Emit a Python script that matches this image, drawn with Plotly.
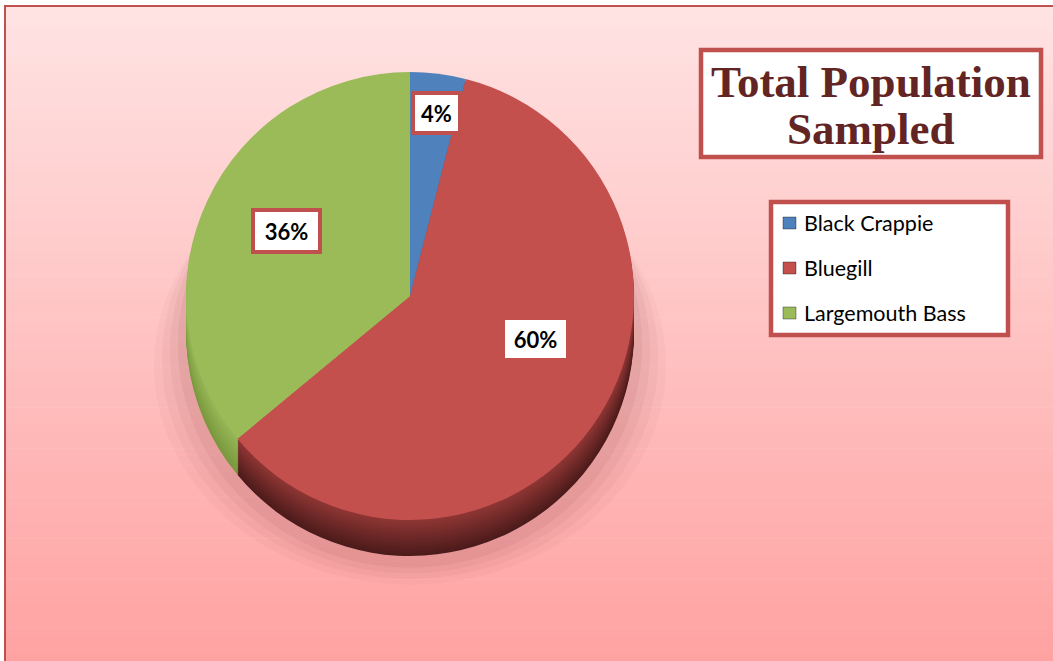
import plotly.graph_objects as go

# ---- data ----
species = ["Black Crappie", "Bluegill", "Largemouth Bass"]
percent = [4, 60, 36]
face_colors = ["#4f81bd", "#c4504e", "#9bbb59"]
title_lines = ["Total Population", "Sampled"]

W, H = 1053, 661


def X(px):
    return px / W


def Y(py):
    return 1 - py / H


def mix(c0, c1, t):
    return "rgb(%d,%d,%d)" % tuple(round(a + (b - a) * t) for a, b in zip(c0, c1))


def dom(cx, cy, r):
    return dict(x=[X(cx - r), X(cx + r)], y=[Y(cy + r), Y(cy - r)])


shapes = []
# background gradient
N = 80
top_c, bot_c = (255, 227, 227), (255, 162, 162)
y_start, y_end = 6, 661
for i in range(N):
    y0 = y_start + (y_end - y_start) * i / N
    y1 = y_start + (y_end - y_start) * (i + 1) / N + 0.6
    shapes.append(dict(type="rect", xref="paper", yref="paper", layer="below",
                       x0=X(5), x1=X(1070), y0=Y(y0), y1=Y(y1),
                       fillcolor=mix(top_c, bot_c, (i + 0.5) / N), line=dict(width=0)))

# pie geometry
cx, cy, r, depth = 410, 296, 224, 36

# soft shadow under the pie
for grow, op in [(32, 0.035), (24, 0.045), (16, 0.055), (8, 0.065)]:
    shapes.append(dict(type="circle", xref="paper", yref="paper", layer="below",
                       x0=X(cx - r - grow), x1=X(cx + r + grow),
                       y0=Y(cy + depth + 6 + r + grow * 0.7), y1=Y(cy + depth + 6 - r + grow),
                       fillcolor="rgba(120,50,50,%.3f)" % op, line=dict(width=0)))

# outer chart border
shapes.append(dict(type="rect", xref="paper", yref="paper", layer="above",
                   x0=X(5), x1=X(1080), y0=Y(700), y1=Y(6),
                   fillcolor="rgba(0,0,0,0)", line=dict(color="#c0504d", width=2)))

# title box
shapes.append(dict(type="rect", xref="paper", yref="paper",
                   x0=X(701), x1=X(1041), y0=Y(157), y1=Y(50),
                   fillcolor="white", line=dict(color="#c0504d", width=4.5)))
# legend box
shapes.append(dict(type="rect", xref="paper", yref="paper",
                   x0=X(771), x1=X(1008), y0=Y(335), y1=Y(202),
                   fillcolor="white", line=dict(color="#c0504d", width=4.5)))

fig = go.Figure()

side_dark = [(38, 64, 104), (76, 27, 27), (122, 152, 62)]
side_light = [(62, 100, 150), (142, 54, 52), (150, 182, 86)]
for off in range(depth, 0, -2):
    t = (off - 1) / (depth - 1)
    cols = [mix(l, d, t) for l, d in zip(side_light, side_dark)]
    fig.add_trace(go.Pie(labels=species, values=percent, sort=False, direction="clockwise",
                         marker=dict(colors=cols, line=dict(width=0)),
                         textinfo="none", hoverinfo="skip", showlegend=False,
                         domain=dom(cx, cy + off, r)))

fig.add_trace(go.Pie(labels=species, values=percent, sort=False, direction="clockwise",
                     marker=dict(colors=face_colors, line=dict(width=0)),
                     textinfo="none", hoverinfo="label+percent", showlegend=False,
                     domain=dom(cx, cy, r)))

annotations = []
# title (two lines)
for line, ty in zip(title_lines, [82, 129]):
    annotations.append(dict(xref="paper", yref="paper", x=X(871), y=Y(ty), showarrow=False,
                            xanchor="center", yanchor="middle", text="<b>" + line + "</b>",
                            font=dict(family="Liberation Serif", size=45, color="#632523")))

# data labels (in species order)
label_pos = [(436.5, 113), (535.5, 339), (286.5, 231)]
label_border = [True, False, True]
label_w = [35, 51, 55]
label_h = [28, 28, 30]
for pct, (lx, ly), b, w, h in zip(percent, label_pos, label_border, label_w, label_h):
    annotations.append(dict(xref="paper", yref="paper", x=X(lx), y=Y(ly), showarrow=False,
                            xanchor="center", yanchor="middle",
                            text="<b>%d%%</b>" % pct,
                            font=dict(family="Lato", size=22, color="black"),
                            bgcolor="white", bordercolor="#c0504d" if b else "white",
                            borderwidth=4 if b else 0, borderpad=4 if b else 5,
                            width=w, height=h))

# custom legend
leg_y = [223, 268, 313]
for name, col, yy in zip(species, face_colors, leg_y):
    shapes.append(dict(type="rect", xref="paper", yref="paper",
                       x0=X(783), x1=X(796), y0=Y(yy + 6), y1=Y(yy - 6),
                       fillcolor=col, line=dict(color="rgba(0,0,0,0.35)", width=1)))
    annotations.append(dict(xref="paper", yref="paper", x=X(802), y=Y(yy), showarrow=False,
                            xanchor="left", yanchor="middle", text=name,
                            font=dict(family="Lato", size=21.5, color="black")))

fig.update_layout(width=W, height=H, margin=dict(l=0, r=0, t=0, b=0),
                  paper_bgcolor="white", plot_bgcolor="white",
                  shapes=shapes, annotations=annotations, showlegend=False)

fig.write_html("out.html", config={"displayModeBar": False},
               post_script=("document.body.style.margin='0';"
                            "document.body.style.overflow='hidden';"
                            "document.documentElement.style.background="
                            "'linear-gradient(#ffe3e3,#ffa2a2)';"))
